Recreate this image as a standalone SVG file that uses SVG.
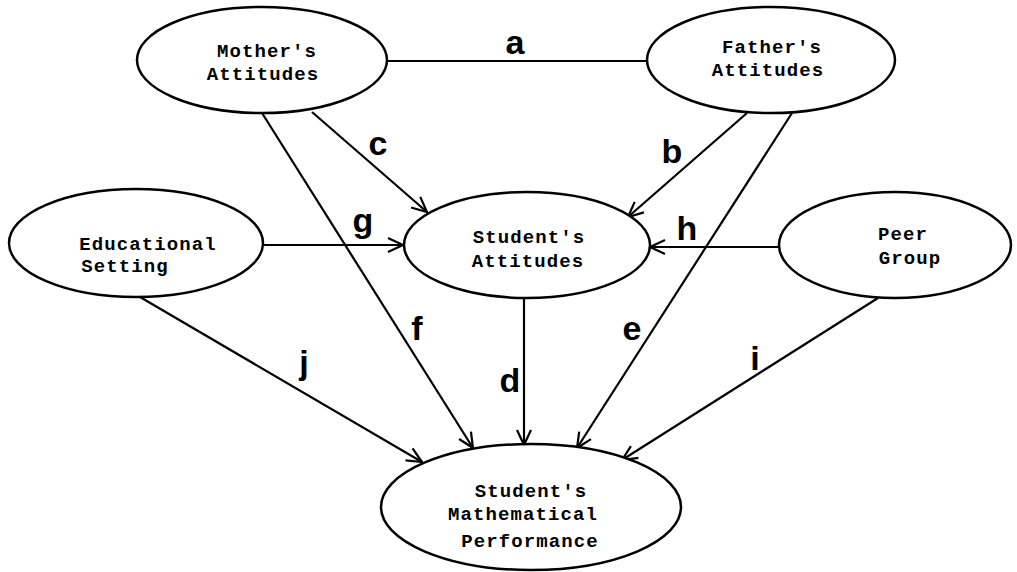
<svg xmlns="http://www.w3.org/2000/svg" width="1017" height="572" viewBox="0 0 1017 572">
<style>
.node ellipse{fill:#fff;stroke:#000;stroke-width:2.5}
.nt{font-family:"Liberation Mono",monospace;font-size:19px;font-weight:bold;letter-spacing:1.1px;fill:#000;text-anchor:middle}
.edge{stroke:#000;stroke-width:2.2;fill:none}
.lbl{font-family:"Liberation Sans",Arial,sans-serif;font-weight:bold;font-size:34px;fill:#000;text-anchor:middle}
</style>
<defs>
<marker id="arr" markerUnits="userSpaceOnUse" markerWidth="20" markerHeight="20" viewBox="-16 -10 20 20" refX="0" refY="0" orient="auto">
<path d="M-15,-7 L0,0 L-15,7" fill="none" stroke="#000" stroke-width="2.2"/>
</marker>
</defs>
<rect width="1017" height="572" fill="#fff"/>
<g id="connectors">
<line class="edge" x1="387" y1="61" x2="647" y2="61"/>
<line class="edge" x1="312" y1="112" x2="427" y2="212" marker-end="url(#arr)"/>
<line class="edge" x1="747" y1="113" x2="628" y2="217" marker-end="url(#arr)"/>
<line class="edge" x1="262" y1="113" x2="473" y2="448" marker-end="url(#arr)"/>
<line class="edge" x1="792" y1="113" x2="577" y2="448" marker-end="url(#arr)"/>
<line class="edge" x1="263" y1="245" x2="403" y2="245" marker-end="url(#arr)"/>
<line class="edge" x1="780" y1="247" x2="650" y2="247" marker-end="url(#arr)"/>
<line class="edge" x1="524" y1="298" x2="524" y2="445" marker-end="url(#arr)"/>
<line class="edge" x1="140" y1="297" x2="422" y2="462" marker-end="url(#arr)"/>
<line class="edge" x1="878" y1="298" x2="622" y2="460" marker-end="url(#arr)"/>
<text class="lbl" x="515" y="54">a</text>
<text class="lbl" x="378" y="155">c</text>
<text class="lbl" x="672" y="163">b</text>
<text class="lbl" x="363" y="232">g</text>
<text class="lbl" x="687" y="240">h</text>
<text class="lbl" x="417" y="340">f</text>
<text class="lbl" x="304" y="374">j</text>
<text class="lbl" x="510" y="392">d</text>
<text class="lbl" x="632" y="340">e</text>
<text class="lbl" x="755" y="370">i</text>
</g>
<g id="mother" class="node">
<ellipse cx="262" cy="60" rx="125" ry="53"/>
<text class="nt" x="267" y="57">Mother's</text>
<text class="nt" x="263" y="80">Attitudes</text>
</g>
<g id="father" class="node">
<ellipse cx="771" cy="60" rx="124" ry="53"/>
<text class="nt" x="772" y="53">Father's</text>
<text class="nt" x="768" y="76">Attitudes</text>
</g>
<g id="educational" class="node">
<ellipse cx="136" cy="243" rx="127" ry="54"/>
<text class="nt" x="148" y="250">Educational</text>
<text class="nt" x="125" y="272">Setting</text>
</g>
<g id="student-attitudes" class="node">
<ellipse cx="527" cy="245" rx="123" ry="53"/>
<text class="nt" x="529" y="243">Student's</text>
<text class="nt" x="528" y="267">Attitudes</text>
</g>
<g id="peer" class="node">
<ellipse cx="895" cy="245" rx="116" ry="53"/>
<text class="nt" x="903" y="240">Peer</text>
<text class="nt" x="910" y="264">Group</text>
</g>
<g id="performance" class="node">
<ellipse cx="531" cy="507" rx="150" ry="63"/>
<text class="nt" x="531" y="497">Student's</text>
<text class="nt" x="523" y="520">Mathematical</text>
<text class="nt" x="530" y="547">Performance</text>
</g>
</svg>
